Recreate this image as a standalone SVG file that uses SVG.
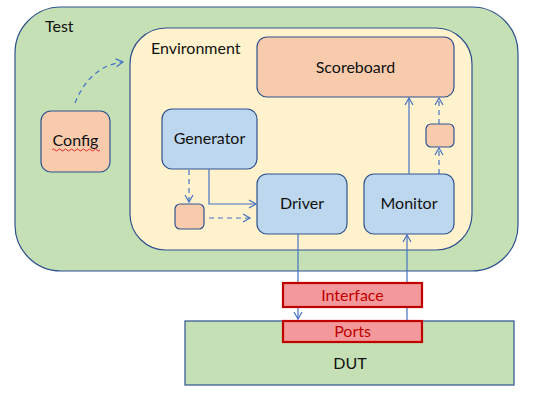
<svg xmlns="http://www.w3.org/2000/svg" width="538" height="403" viewBox="0 0 538 403">
<style>
text{font-family:Lato,"Open Sans","Liberation Sans",sans-serif;font-size:16px;fill:#111;}
.c{text-anchor:middle;}
.orange{fill:#F8CBAD;stroke:#2F528F;stroke-width:1.2;}
.blue{fill:#BDD7EE;stroke:#2F528F;stroke-width:1.2;}
.red{fill:#F4999B;stroke:#C00000;stroke-width:2.2;}
.rt{fill:#C00000;}
.ln{fill:none;stroke:#4472C4;stroke-width:1.2;}
.ds{stroke-dasharray:5,4;}
</style>
<defs>
<marker id="ah" markerWidth="10" markerHeight="10" refX="8" refY="5" orient="auto" markerUnits="userSpaceOnUse">
<path d="M1,1 L8,5 L1,9" fill="none" stroke="#4472C4" stroke-width="1.2"/>
</marker>
</defs>
<g id="test">
<rect x="15" y="7" width="503" height="264" rx="46" fill="#C5E0B4" stroke="#2F528F" stroke-width="1.2"/>
<text x="45" y="32">Test</text>
</g>
<g id="environment">
<rect x="130" y="28" width="342" height="222" rx="36" fill="#FFF2CC" stroke="#2F528F" stroke-width="1.2"/>
<text x="151" y="54">Environment</text>
</g>
<g id="config">
<rect class="orange" x="41" y="111" width="69" height="61" rx="10"/>
<text class="c" x="75.5" y="146">Config</text>
<path d="M52,150 q1.5,-2 3,0 t3,0 t3,0 t3,0 t3,0 t3,0 t3,0 t3,0 t3,0 t3,0 t3,0 t3,0 t3,0 t3,0 t3,0 t3,0" fill="none" stroke="#E02020" stroke-width="0.9"/>
</g>
<g id="scoreboard">
<rect class="orange" x="257" y="37" width="197" height="60" rx="10"/>
<text class="c" x="355.5" y="73">Scoreboard</text>
</g>
<g id="generator">
<rect class="blue" x="162" y="109" width="95" height="60" rx="10"/>
<text class="c" x="209.5" y="144">Generator</text>
</g>
<g id="gen-buffer">
<rect class="orange" x="175" y="204" width="29" height="25" rx="5"/>
</g>
<g id="driver">
<rect class="blue" x="257" y="174" width="90" height="60" rx="10"/>
<text class="c" x="302" y="209">Driver</text>
</g>
<g id="monitor">
<rect class="blue" x="364" y="174" width="90" height="60" rx="10"/>
<text class="c" x="409" y="209">Monitor</text>
</g>
<g id="mon-buffer">
<rect class="orange" x="426" y="124" width="28" height="23" rx="5"/>
</g>
<g id="dut">
<rect x="185" y="321" width="329" height="64" fill="#C5E0B4" stroke="#2F528F" stroke-width="1.2"/>
<text class="c" x="350" y="369">DUT</text>
</g>
<g id="connectors">
<path class="ln ds" d="M75,103 Q90,66 123,62" marker-end="url(#ah)"/>
<path class="ln" d="M209,169 V204 H256" marker-end="url(#ah)"/>
<path class="ln ds" d="M189,170 V202" marker-end="url(#ah)"/>
<path class="ln ds" d="M209,218 H250" marker-end="url(#ah)"/>
<path class="ln" d="M409,174 V98" marker-end="url(#ah)"/>
<path class="ln ds" d="M439,174 V148" marker-end="url(#ah)"/>
<path class="ln ds" d="M439,124 V98" marker-end="url(#ah)"/>
<path class="ln" d="M298,234 V319" marker-end="url(#ah)"/>
<path class="ln" d="M407,321 V235" marker-end="url(#ah)"/>
</g>
<g id="interface">
<rect class="red" x="283" y="283" width="139" height="24"/>
<text class="c rt" x="352.5" y="301">Interface</text>
</g>
<g id="ports">
<rect class="red" x="283" y="321" width="139" height="21"/>
<text class="c rt" x="352.5" y="337">Ports</text>
</g>
</svg>
